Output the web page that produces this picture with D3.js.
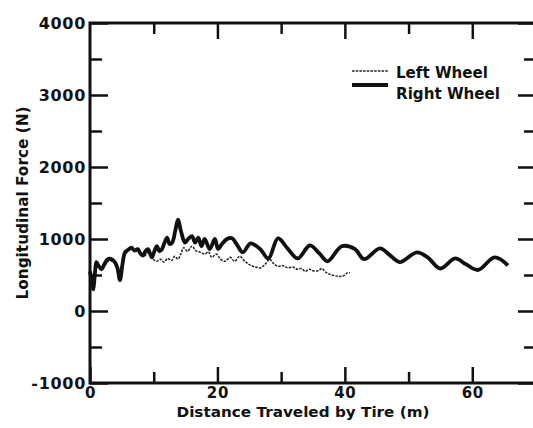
<!DOCTYPE html>
<html>
<head>
<meta charset="utf-8">
<script src="https://cdn.jsdelivr.net/npm/d3@7"></script>
<style>
  body { margin: 0; background: #fff; }
  text { font-family: "DejaVu Sans", sans-serif; font-weight: bold; fill: #111; }
</style>
</head>
<body>
<script>
// distance traveled (m) and longitudinal force (N)
var rightDist = [0, 0.3, 0.5, 0.8, 1.0, 1.4, 1.8, 2.3, 2.8, 3.4, 3.9, 4.3, 4.7, 5.1, 5.5, 6.0, 6.5, 7.0, 7.5, 7.9,
    8.3, 8.7, 9.1, 9.7, 10.1, 10.5, 10.9, 11.3, 11.7, 12.1, 12.5, 12.9, 13.4, 13.8, 14.3, 14.9, 15.4, 16.0, 16.5, 17.0,
    17.5, 18.0, 18.8, 19.6, 20.1, 20.7, 21.5, 22.3, 23.0, 24.0, 25.2, 26.7, 28.0, 29.5, 31.0, 32.6, 34.5, 36.0, 37.3, 39.5,
    41.6, 43.0, 45.5, 47.0, 48.6, 51.3, 53.0, 55.0, 57.3, 59.0, 60.9, 63.5, 65.6];
var rightForce = [550, 400, 300, 550, 680, 620, 580, 660, 720, 720, 680, 600, 430, 650, 815, 850, 880, 840, 860, 800,
    770, 830, 860, 745, 830, 900, 830, 860, 950, 1020, 930, 950, 1120, 1270, 1100, 950, 1000, 1040, 950, 1020,
    900, 1000, 860, 1000, 860, 930, 1000, 1010, 930, 815, 940, 860, 730, 1010, 870, 730, 910, 800, 690, 900,
    860, 720, 870, 780, 680, 815, 745, 590, 730, 650, 570, 745, 635];

var leftDist = [0, 0.5, 1, 2, 3, 4, 4.7, 5.5, 6.5, 7.5, 8.5, 9.2, 9.9, 10.5, 11, 11.6, 12.2, 12.8, 13.3, 13.8,
    14.3, 14.7, 15.3, 16, 16.6, 17.3, 18, 18.6, 19.1, 19.8, 20.5, 21.2, 22, 22.7, 23.5, 24.3, 25.1, 26, 26.8, 27.5,
    28.2, 28.8, 29.5, 30.3, 31, 31.8, 32.5, 33.2, 33.8, 34.4, 35, 35.8, 36.4, 37, 37.6, 38.4, 39.2, 39.8, 40.4, 40.8];
var leftForce = [450, 350, 650, 600, 700, 650, 450, 780, 860, 820, 760, 820, 720, 690, 720, 680, 730, 700, 760, 720,
    800, 880, 830, 900, 840, 815, 790, 820, 745, 790, 720, 690, 745, 690, 760, 690, 640, 610, 600, 650,
    720, 660, 620, 630, 600, 610, 580, 590, 550, 580, 560, 560, 590, 540, 510, 490, 480, 490, 530, 530];

var xMajor = [0, 20, 40, 60];
var xMinor = [10, 30, 50];
var yMajor = [-1000, 0, 1000, 2000, 3000, 4000];
var yMinor = [-500, 500, 1500, 2500, 3500];

var W = 533, H = 428;
var plotLeft = 90, plotRight = 536, plotTop = 23, plotBottom = 383;

var svg = d3.select("body").append("svg")
    .attr("width", W)
    .attr("height", H);

var x = d3.scaleLinear().domain([0, 70]).range([plotLeft, plotRight]);
var y = d3.scaleLinear().domain([-1000, 4000]).range([plotBottom, plotTop]);

// plain hyphen for negatives, like the original
var fmt = function (d) { return String(d); };

function styleAxis(g, size) {
    g.select(".domain").remove();
    g.selectAll(".tick line").attr("stroke", "#111").attr("stroke-width", 2.5);
    if (size) {
        g.selectAll(".tick text").style("font-size", size + "px").style("letter-spacing", "0.7px");
    } else {
        g.selectAll(".tick text").remove();
    }
}

// left axis
svg.append("g").attr("transform", "translate(" + plotLeft + ",0)")
    .call(d3.axisLeft(y).tickValues(yMajor).tickSize(-18).tickPadding(4).tickFormat(fmt))
    .call(styleAxis, 16);
svg.append("g").attr("transform", "translate(" + plotLeft + ",0)")
    .call(d3.axisLeft(y).tickValues(yMinor).tickSize(-12))
    .call(styleAxis, 0);

// right axis
svg.append("g").attr("transform", "translate(" + plotRight + ",0)")
    .call(d3.axisRight(y).tickValues(yMajor).tickSize(-18))
    .call(styleAxis, 0);
svg.append("g").attr("transform", "translate(" + plotRight + ",0)")
    .call(d3.axisRight(y).tickValues(yMinor).tickSize(-12))
    .call(styleAxis, 0);

// bottom axis
svg.append("g").attr("transform", "translate(0," + plotBottom + ")")
    .call(d3.axisBottom(x).tickValues(xMajor).tickSize(-16).tickPadding(4).tickFormat(fmt))
    .call(styleAxis, 15);
svg.append("g").attr("transform", "translate(0," + plotBottom + ")")
    .call(d3.axisBottom(x).tickValues(xMinor).tickSize(-11))
    .call(styleAxis, 0);

// top axis
svg.append("g").attr("transform", "translate(0," + plotTop + ")")
    .call(d3.axisTop(x).tickValues(xMajor.slice(1)).tickSize(-16))
    .call(styleAxis, 0);
svg.append("g").attr("transform", "translate(0," + plotTop + ")")
    .call(d3.axisTop(x).tickValues(xMinor).tickSize(-11))
    .call(styleAxis, 0);

// frame
svg.append("rect")
    .attr("x", plotLeft).attr("y", plotTop)
    .attr("width", plotRight - plotLeft).attr("height", plotBottom - plotTop)
    .attr("fill", "none").attr("stroke", "#111").attr("stroke-width", 3);

var line = d3.line()
    .x(function (d) { return x(d[0]); })
    .y(function (d) { return y(d[1]); })
    .curve(d3.curveCatmullRom.alpha(0.5));

svg.append("path")
    .datum(d3.zip(leftDist, leftForce))
    .attr("d", line)
    .attr("fill", "none")
    .attr("stroke", "#222")
    .attr("stroke-width", 1.5)
    .attr("stroke-dasharray", "2.5,1.2");

svg.append("path")
    .datum(d3.zip(rightDist, rightForce))
    .attr("d", line)
    .attr("fill", "none")
    .attr("stroke", "#111")
    .attr("stroke-width", 3.8)
    .attr("stroke-linejoin", "round");

// legend
var legend = svg.append("g");
legend.append("line").attr("x1", 352).attr("x2", 388).attr("y1", 71).attr("y2", 71)
    .attr("stroke", "#222").attr("stroke-width", 1.5).attr("stroke-dasharray", "2.5,1.2");
legend.append("line").attr("x1", 352).attr("x2", 388).attr("y1", 85).attr("y2", 85)
    .attr("stroke", "#111").attr("stroke-width", 3.8);
legend.append("text").attr("x", 396).attr("y", 78)
    .attr("textLength", 92).attr("lengthAdjust", "spacingAndGlyphs")
    .style("font-size", "15px").text("Left Wheel");
legend.append("text").attr("x", 396).attr("y", 99)
    .attr("textLength", 104).attr("lengthAdjust", "spacingAndGlyphs")
    .style("font-size", "15px").text("Right Wheel");

// axis titles
svg.append("text")
    .attr("x", 303).attr("y", 417)
    .attr("text-anchor", "middle")
    .attr("textLength", 253).attr("lengthAdjust", "spacingAndGlyphs")
    .style("font-size", "14px")
    .text("Distance Traveled by Tire (m)");

svg.append("text")
    .attr("transform", "translate(28,203) rotate(-90)")
    .attr("text-anchor", "middle")
    .attr("textLength", 193).attr("lengthAdjust", "spacingAndGlyphs")
    .style("font-size", "15px")
    .text("Longitudinal Force (N)");
</script>
</body>
</html>
